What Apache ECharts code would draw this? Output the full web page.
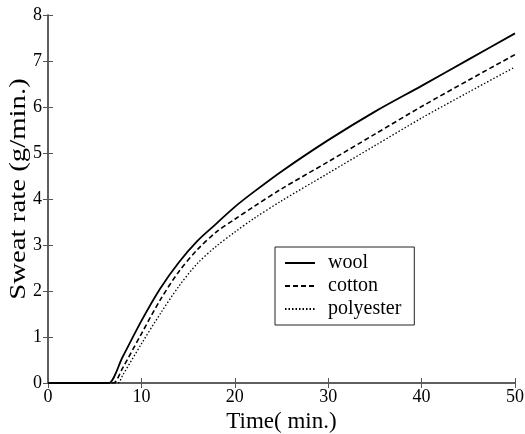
<!DOCTYPE html>
<html>
<head>
<meta charset="utf-8">
<script src="https://cdn.jsdelivr.net/npm/echarts@6/dist/echarts.min.js"></script>
<style>
html,body{margin:0;padding:0;background:#fff;}
#chart{width:525px;height:434px;}
</style>
</head>
<body>
<div id="chart"></div>
<script>
var xTicks = [0, 10, 20, 30, 40, 50];
var yTicks = [0, 1, 2, 3, 4, 5, 6, 7, 8];
var xTitle = 'Time( min.)';
var yTitle = 'Sweat rate (g/min.)';

var woolTime = [0, 6.0, 6.5, 8, 10, 12, 14, 16, 18, 20, 22, 25, 30, 35, 40, 45, 50];
var wool     = [0, 0, 0, 0.57, 1.35, 2.05, 2.62, 3.09, 3.46, 3.83, 4.15, 4.6, 5.28, 5.9, 6.46, 7.03, 7.6];

var cottonTime = [0, 6.5, 7.0, 8, 10, 12, 14, 16, 18, 20, 22, 25, 30, 35, 40, 45, 50];
var cotton     = [0, 0, 0, 0.33, 1.07, 1.8, 2.42, 2.9, 3.28, 3.56, 3.83, 4.22, 4.81, 5.41, 6.01, 6.58, 7.14];

var polyTime  = [0, 7.0, 7.5, 8, 10, 12, 14, 16, 18, 20, 22, 25, 30, 35, 40, 45, 50];
var polyester = [0, 0, 0, 0.17, 0.85, 1.5, 2.1, 2.6, 2.97, 3.28, 3.57, 3.96, 4.56, 5.16, 5.76, 6.32, 6.87];

function pairs(xs, ys) { return xs.map(function (x, i) { return [x, ys[i]]; }); }

var font = '"Liberation Serif", "Times New Roman", serif';
var axisColor = '#555';

var chart = echarts.init(document.getElementById('chart'), null, {renderer: 'canvas'});
var baseX = {
  type: 'value', min: xTicks[0], max: xTicks[xTicks.length - 1], interval: 10,
  axisLine: {show: true, lineStyle: {color: axisColor, width: 1.5}},
  axisTick: {show: true, inside: true, length: 5, lineStyle: {color: axisColor}},
  splitLine: {show: false}
};
var baseY = {
  type: 'value', min: yTicks[0], max: yTicks[yTicks.length - 1], interval: 1,
  axisLine: {show: true, lineStyle: {color: axisColor, width: 1.5}},
  axisTick: {show: true, inside: true, length: 5, lineStyle: {color: axisColor}},
  splitLine: {show: false}
};
var option = {
  backgroundColor: '#fff',
  animation: false,
  grid: {left: 48, right: 10, top: 15, bottom: 51, outerBoundsMode: 'none', containLabel: false},
  legend: {
    left: 275, top: 247, orient: 'vertical',
    backgroundColor: '#fff', borderColor: '#222', borderWidth: 1,
    padding: [6, 13, 6, 9], itemGap: 3, itemWidth: 30, itemHeight: 14,
    itemStyle: {opacity: 0},
    textStyle: {fontFamily: font, fontSize: 20, color: '#000', padding: [0, 0, 0, 8]},
    data: ['wool', 'cotton', 'polyester']
  },
  graphic: [{
    type: 'text', x: 19, y: 189, rotation: Math.PI / 2, scaleX: 1.2, scaleY: 1,
    style: {text: yTitle, font: '24px ' + font, fill: '#000', align: 'center', verticalAlign: 'middle'}
  }],
  xAxis: [
    Object.assign({}, baseX, {
      position: 'bottom', name: xTitle, nameLocation: 'middle', nameGap: 25,
      nameTextStyle: {fontFamily: font, fontSize: 23, color: '#000'},
      axisLabel: {fontFamily: font, fontSize: 18, color: '#000', margin: 5}
    }),
    Object.assign({}, baseX, {position: 'top', axisLabel: {show: false}})
  ],
  yAxis: [
    Object.assign({}, baseY, {
      position: 'left',
      axisLabel: {fontFamily: font, fontSize: 18, color: '#000', margin: 6}
    }),
    Object.assign({}, baseY, {position: 'right', axisLabel: {show: false}})
  ],
  series: [
    {name: 'wool', type: 'line', data: pairs(woolTime, wool), showSymbol: false, symbol: 'none',
     smooth: 0.3, lineStyle: {color: '#000', width: 1.8, type: 'solid'}, itemStyle: {color: '#000'}},
    {name: 'cotton', type: 'line', data: pairs(cottonTime, cotton), showSymbol: false, symbol: 'none',
     smooth: 0.3, lineStyle: {color: '#000', width: 1.6, type: [5, 3]}, itemStyle: {color: '#000'}},
    {name: 'polyester', type: 'line', data: pairs(polyTime, polyester), showSymbol: false, symbol: 'none',
     smooth: 0.3, lineStyle: {color: '#000', width: 1.3, type: [1.5, 2]}, itemStyle: {color: '#000'}}
  ]
};
chart.setOption(option);
</script>
</body>
</html>
